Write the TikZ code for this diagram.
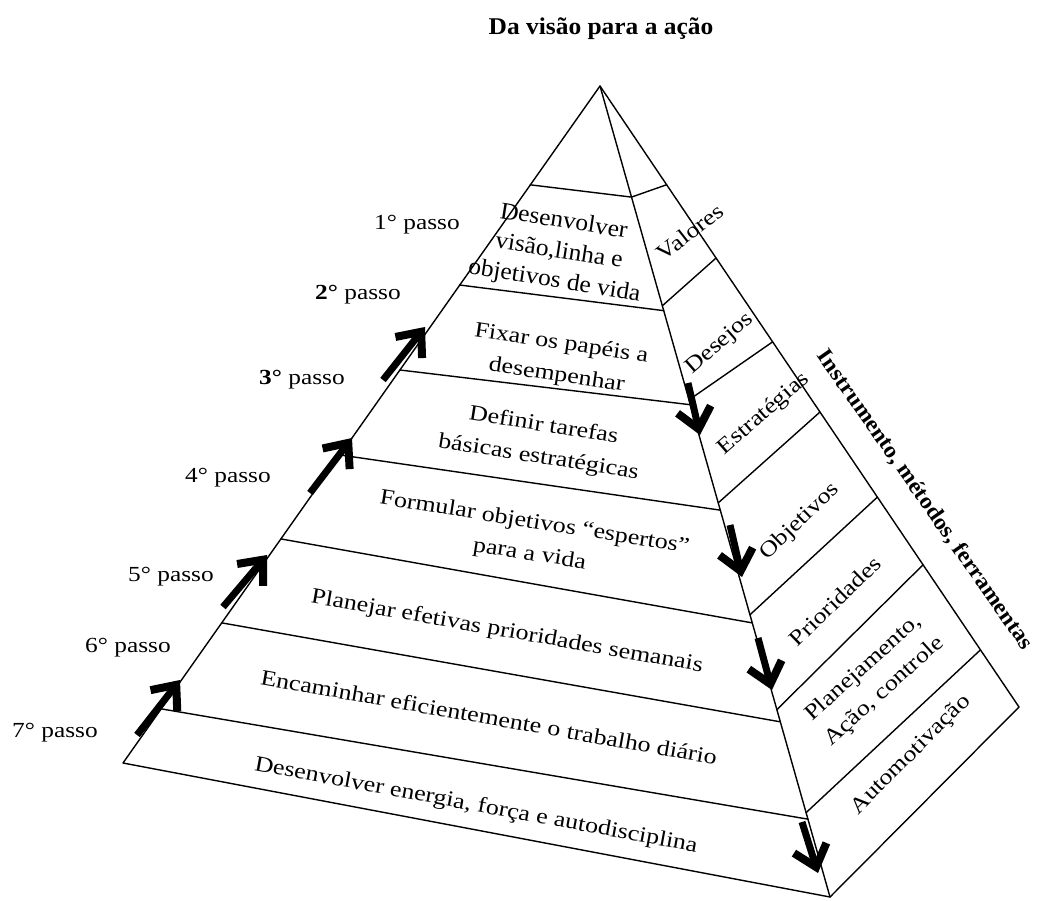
\documentclass[tikz,border=0pt]{standalone}
\usepackage{fontspec}
\setmainfont{Liberation Serif}
\newfontfamily\widefont{Liberation Serif}[FakeStretch=1.18]
\newfontfamily\midfont{Liberation Serif}[FakeStretch=1.06]
\usetikzlibrary{arrows.meta,calc}

\tikzset{
  edge/.style={line width=1.4pt, line cap=round, line join=round},
  steparrow/.style={line width=7pt, -{Straight Barb[length=20pt,width=34pt,line width=8pt]}},
  facetext/.style={font={\widefont\fontsize{22}{32}\selectfont}, align=center, inner sep=0pt},
  toptext/.style={font={\midfont\fontsize{24}{30}\selectfont}, align=center, inner sep=0pt},
  sidetext/.style={font={\widefont\fontsize{22}{31}\selectfont}, align=center, inner sep=0pt},
  passo/.style={font={\widefont\fontsize{21.5}{25}\selectfont}, inner sep=0pt},
  headline/.style={font={\midfont\bfseries\fontsize{24}{28}\selectfont}, inner sep=0pt}
}

\begin{document}
\begin{tikzpicture}[x=1pt,y=-1pt]
\path[use as bounding box] (0,0) rectangle (1043,901);

% pyramid corners
\coordinate (A)  at (600,86);
\coordinate (BL) at (123,763);
\coordinate (BM) at (830,897);
\coordinate (BR) at (1019,707);

% outline and front ridge
\draw[edge] (BL) -- (A) -- (BR) -- (BM) -- cycle;
\draw[edge] (A) -- (BM);

% layers on the front face
\foreach \i/\tl/\tm in {1/0.146/0.137, 2/0.294/0.277, 3/0.4195/0.393,
                        4/0.545/0.523, 5/0.669/0.662, 6/0.793/0.784, 7/0.920/0.904} {
  \coordinate (L\i) at ($(A)!\tl!(BL)$);
  \coordinate (M\i) at ($(A)!\tm!(BM)$);
  \draw[edge] (L\i) -- (M\i);
}

% bands on the side face
\foreach \i/\tn/\tr in {1/0.137/0.159, 2/0.271/0.277, 3/0.387/0.412,
                        4/0.514/0.525, 5/0.652/0.662, 6/0.769/0.771, 7/0.896/0.908} {
  \coordinate (N\i) at ($(A)!\tn!(BM)$);
  \coordinate (R\i) at ($(A)!\tr!(BR)$);
  \draw[edge] (N\i) -- (R\i);
}

% upward step arrows along the left edge
\coordinate (u1s) at (383,380); \coordinate (u1e) at (425,327);
\coordinate (u2s) at (310,493); \coordinate (u2e) at (352,438);
\coordinate (u3s) at (223,607); \coordinate (u3e) at (267,555);
\coordinate (u4s) at (137,735); \coordinate (u4e) at (180,680);
\foreach \k in {1,...,4} { \draw[steparrow] (u\k s) -- (u\k e); }

% downward arrows along the front ridge
\coordinate (d1s) at (688,383); \coordinate (d1e) at (700,435);
\coordinate (d2s) at (730,525); \coordinate (d2e) at (742,577);
\coordinate (d3s) at (758,638); \coordinate (d3e) at (772,690);
\coordinate (d4s) at (802,822); \coordinate (d4e) at (818,873);
\foreach \k in {1,...,4} { \draw[steparrow] (d\k s) -- (d\k e); }

% title
\node[headline] (title) at (601,29) {Da visão para a ação};

% step labels
\node[passo] (p1) at (417,225) {1° passo};
\node[passo] (p2) at (358,295) {{\bfseries 2°} passo};
\node[passo] (p3) at (302,380) {{\bfseries 3°} passo};
\node[passo] (p4) at (228,478) {4° passo};
\node[passo] (p5) at (171,577) {5° passo};
\node[passo] (p6) at (128,648) {6° passo};
\node[passo] (p7) at (55,733)  {7° passo};

% front face texts
\node[toptext, rotate=-9] (f1) at (559,252) {Desenvolver\\visão,linha e\\objetivos de vida};
\node[facetext, rotate=-8.5] (f2) at (559,360) {Fixar os papéis a\\desempenhar};
\node[facetext, rotate=-9] (f3) at (541,442) {Definir tarefas\\básicas estratégicas};
\node[facetext, rotate=-9] (f4) at (532,539) {Formular objetivos “espertos”\\para a vida};
\node[facetext, rotate=-10] (f5) at (507,632) {Planejar efetivas prioridades semanais};
\node[facetext, rotate=-10] (f6) at (489,717) {Encaminhar eficientemente o trabalho diário};
\node[facetext, rotate=-10.5] (f7) at (476,806) {Desenvolver energia, força e autodisciplina};

% side face texts
\node[sidetext, rotate=38] (s1) at (690,232) {Valores};
\node[sidetext, rotate=41] (s2) at (720,344) {Desejos};
\node[sidetext, rotate=41] (s3) at (764,414) {Estratégias};
\node[sidetext, rotate=44] (s4) at (800,522) {Objetivos};
\node[sidetext, rotate=44] (s5) at (835,601) {Prioridades};
\node[sidetext, rotate=42] (s6) at (874,680) {Planejamento,\\Ação, controle};
\node[sidetext, rotate=45] (s7) at (911,755) {Automotivação};

% side caption
\node[headline, font={\midfont\bfseries\fontsize{22.5}{27}\selectfont}, rotate=-55] (tools) at (925,500)
  {Instrumento, métodos, ferramentas};
\end{tikzpicture}
\end{document}
